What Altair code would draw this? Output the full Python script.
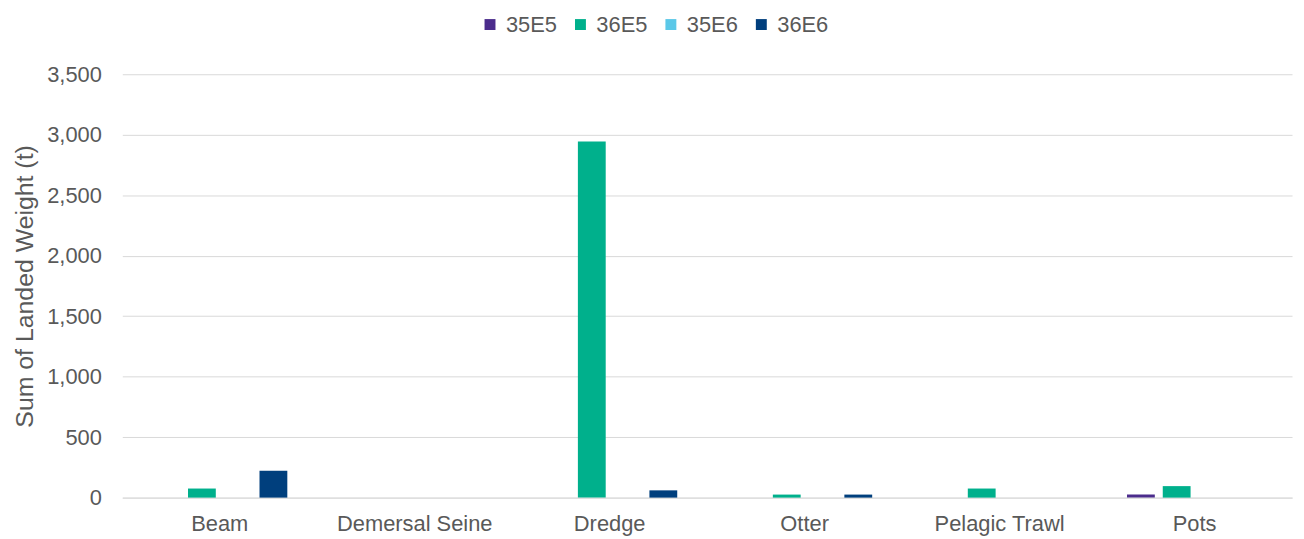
import altair as alt
import pandas as pd

categories = ["Beam", "Demersal Seine", "Dredge", "Otter", "Pelagic Trawl", "Pots"]
series = ["35E5", "36E5", "35E6", "36E6"]
colors = ["#4B2C8C", "#00B08C", "#5BC8E8", "#003F7D"]

v_35E5 = [0, 0, 0, 0, 0, 25]
v_36E5 = [75, 0, 2944, 25, 75, 95]
v_35E6 = [0, 0, 0, 0, 0, 0]
v_36E6 = [222, 0, 60, 25, 0, 0]

rows = []
for s, vals in zip(series, [v_35E5, v_36E5, v_35E6, v_36E6]):
    for c, v in zip(categories, vals):
        rows.append({"Gear": c, "Rectangle": s, "Weight": v})
df = pd.DataFrame(rows)

font = "Liberation Sans"
chart = alt.Chart(df).mark_bar().encode(
    x=alt.X("Gear:N", sort=categories, title=None,
            scale=alt.Scale(paddingInner=0.307, paddingOuter=0.1535),
            axis=alt.Axis(labelAngle=0, ticks=False, domainColor="#D9D9D9",
                          labelColor="#595959", labelFontSize=22, labelFont=font,
                          labelPadding=16)),
    xOffset=alt.XOffset("Rectangle:N", sort=series,
                        scale=alt.Scale(paddingInner=0.222, paddingOuter=0)),
    y=alt.Y("Weight:Q", title="Sum of Landed Weight (t)",
            scale=alt.Scale(domain=[0, 3500]),
            axis=alt.Axis(values=[0, 500, 1000, 1500, 2000, 2500, 3000, 3500],
                          format=",.0f", domain=False, ticks=False,
                          gridColor="#D9D9D9", labelColor="#595959",
                          labelFontSize=22, labelFont=font, labelPadding=21,
                          titleColor="#595959", titleFontSize=25, titleFont=font,
                          titleFontWeight="normal", titlePadding=9)),
    color=alt.Color("Rectangle:N", sort=series,
                    scale=alt.Scale(domain=series, range=colors),
                    legend=alt.Legend(orient="none", legendX=359, legendY=-61,
                                      direction="horizontal", title=None,
                                      symbolType="square", symbolSize=121,
                                      labelFontSize=22, labelFont=font,
                                      labelColor="#595959", columnPadding=12,
                                      labelOffset=5, symbolStrokeWidth=0)),
).properties(
    width=1177, height=426,
    autosize=alt.AutoSizeParams(type="none"),
    padding={"left": 115, "top": 65, "right": 4, "bottom": 40},
).configure_view(stroke=None)

chart.save("out.html", embed_options={"renderer": "svg", "actions": False})
